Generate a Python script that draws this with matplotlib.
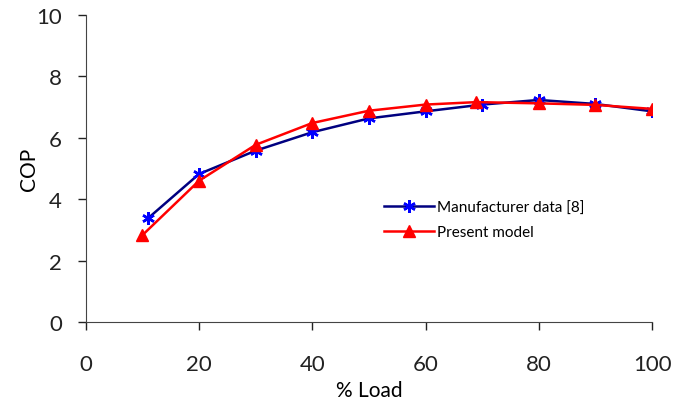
import matplotlib
matplotlib.use('Agg')
import matplotlib.pyplot as plt

# % load vs COP
load_manuf = [11, 20, 30, 40, 50, 60, 70, 80, 90, 100]
cop_manuf = [3.38, 4.82, 5.58, 6.18, 6.63, 6.86, 7.08, 7.23, 7.10, 6.86]

load_model = [10, 20, 30, 40, 50, 60, 69, 80, 90, 100]
cop_model = [2.83, 4.60, 5.77, 6.48, 6.88, 7.08, 7.16, 7.12, 7.07, 6.94]

xticks = [0, 20, 40, 60, 80, 100]
yticks = [0, 2, 4, 6, 8, 10]

plt.rcParams['font.family'] = ['Lato', 'DejaVu Sans']

fig = plt.figure(figsize=(6.75, 4.06), dpi=100)
ax = fig.add_axes([0.127, 0.204, 0.839, 0.757])

ax.plot(load_manuf, cop_manuf, color='#000080', lw=1.8, marker=(6, 2, 0),
        ms=9, mec='#0000ff', mfc='#0000ff', mew=1.8, label='Manufacturer data [8]')
ax.plot(load_model, cop_model, color='#ff0000', lw=1.8, marker='^',
        ms=8, mec='#ff0000', mfc='#ff0000', label='Present model')

ax.set_xlim(0, 100)
ax.set_ylim(0, 10)
ax.set_xticks(xticks)
ax.set_yticks(yticks)
ax.tick_params(direction='out', length=6, width=1, labelsize=16, colors='#222222')
ax.tick_params(axis='x', pad=17)
ax.tick_params(axis='y', pad=11)
for s in ['top', 'right']:
    ax.spines[s].set_visible(False)
for s in ['left', 'bottom']:
    ax.spines[s].set_color('#444444')

ax.set_xlabel('% Load', fontsize=15, labelpad=4)
ax.set_ylabel('COP', fontsize=15, labelpad=-2)

ax.legend(loc='upper left', bbox_to_anchor=(0.502, 0.44), frameon=False,
          fontsize=11, handlelength=3.3, handletextpad=0.2, labelspacing=0.7)

fig.savefig('out.png', dpi=100)
